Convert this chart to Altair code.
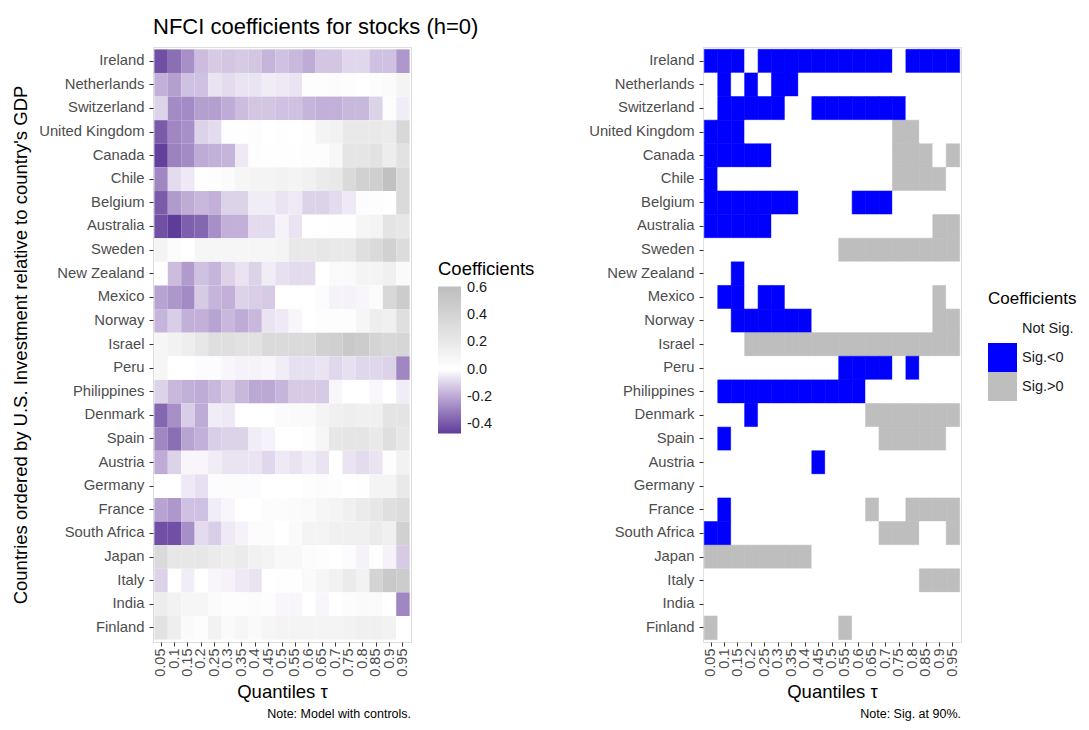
import altair as alt
import pandas as pd

FONT = "Liberation Sans"

countries = ["Ireland", "Netherlands", "Switzerland", "United Kingdom", "Canada", "Chile",
             "Belgium", "Australia", "Sweden", "New Zealand", "Mexico", "Norway", "Israel",
             "Peru", "Philippines", "Denmark", "Spain", "Austria", "Germany", "France",
             "South Africa", "Japan", "Italy", "India", "Finland"]

quantiles = ["0.05", "0.1", "0.15", "0.2", "0.25", "0.3", "0.35", "0.4", "0.45", "0.5",
             "0.55", "0.6", "0.65", "0.7", "0.75", "0.8", "0.85", "0.9", "0.95"]

# NFCI coefficients (h=0), one list per country, quantiles 0.05 ... 0.95
coef_ireland = [-0.42, -0.34, -0.26, -0.15, -0.12, -0.13, -0.12, -0.13, -0.17, -0.14, -0.16, -0.19, -0.13, -0.13, -0.09, -0.09, -0.14, -0.14, -0.24]
coef_netherlands = [-0.18, -0.22, -0.14, -0.14, -0.06, -0.08, -0.06, -0.06, -0.04, -0.05, -0.06, 0.02, 0.02, -0.01, 0.02, 0.0, 0.02, 0.04, 0.1]
coef_switzerland = [-0.1, -0.27, -0.27, -0.22, -0.22, -0.19, -0.15, -0.13, -0.13, -0.14, -0.14, -0.17, -0.18, -0.18, -0.16, -0.16, -0.1, 0.02, -0.04]
coef_uk = [-0.39, -0.28, -0.26, -0.1, -0.08, 0.01, 0.01, 0.02, 0.0, 0.01, 0.0, 0.02, 0.1, 0.12, 0.2, 0.2, 0.2, 0.18, 0.36]
coef_canada = [-0.46, -0.29, -0.27, -0.19, -0.18, -0.17, -0.05, 0.02, 0.01, 0.01, 0.01, 0.02, 0.02, 0.07, 0.24, 0.24, 0.27, 0.17, 0.27]
coef_chile = [-0.28, -0.08, -0.05, 0.0, 0.02, 0.04, 0.08, 0.1, 0.1, 0.12, 0.1, 0.13, 0.18, 0.2, 0.34, 0.43, 0.45, 0.58, 0.34]
coef_belgium = [-0.39, -0.23, -0.19, -0.16, -0.18, -0.1, -0.1, -0.04, -0.04, -0.06, -0.05, -0.1, -0.1, -0.08, -0.05, -0.01, 0.02, 0.01, 0.34]
coef_australia = [-0.42, -0.47, -0.38, -0.36, -0.26, -0.18, -0.18, -0.08, -0.08, -0.03, -0.06, 0.0, 0.0, 0.01, 0.01, 0.08, 0.1, 0.25, 0.22]
coef_sweden = [0.1, 0.03, 0.0, 0.08, 0.08, 0.08, 0.08, 0.08, 0.08, 0.1, 0.2, 0.2, 0.22, 0.2, 0.2, 0.3, 0.34, 0.43, 0.32]
coef_new_zealand = [0.0, -0.15, -0.23, -0.14, -0.17, -0.1, -0.06, -0.1, -0.04, -0.07, -0.08, -0.08, 0.0, 0.05, 0.05, 0.1, 0.1, 0.14, 0.05]
coef_mexico = [-0.21, -0.24, -0.27, -0.12, -0.17, -0.18, -0.1, -0.11, -0.12, 0.0, 0.0, 0.0, -0.01, -0.03, -0.03, -0.02, 0.04, 0.36, 0.48]
coef_norway = [-0.17, -0.11, -0.18, -0.18, -0.21, -0.16, -0.19, -0.16, -0.06, -0.05, -0.02, 0.0, 0.02, 0.02, 0.02, 0.08, 0.16, 0.14, 0.3]
coef_israel = [0.08, 0.12, 0.16, 0.22, 0.3, 0.3, 0.27, 0.27, 0.34, 0.34, 0.34, 0.34, 0.43, 0.45, 0.5, 0.48, 0.4, 0.36, 0.38]
coef_peru = [0.08, 0.0, 0.0, -0.01, -0.01, -0.02, -0.03, -0.03, -0.02, -0.04, -0.07, -0.07, -0.06, -0.09, -0.07, -0.09, -0.09, -0.1, -0.28]
coef_philippines = [-0.1, -0.16, -0.18, -0.19, -0.16, -0.12, -0.16, -0.2, -0.2, -0.17, -0.12, -0.12, -0.12, -0.02, 0.0, 0.0, -0.02, 0.0, -0.04]
coef_denmark = [-0.36, -0.26, -0.11, -0.19, -0.04, -0.05, 0.0, 0.0, 0.0, 0.04, 0.05, 0.05, 0.1, 0.14, 0.16, 0.14, 0.14, 0.25, 0.25]
coef_spain = [-0.28, -0.34, -0.21, -0.18, -0.11, -0.1, -0.1, -0.04, -0.03, 0.0, 0.0, 0.02, 0.08, 0.22, 0.24, 0.24, 0.2, 0.3, 0.22]
coef_austria = [-0.19, -0.1, -0.02, -0.02, -0.04, -0.06, -0.06, -0.06, -0.09, -0.05, -0.06, -0.04, -0.06, 0.0, -0.06, -0.08, -0.06, 0.02, 0.12]
coef_germany = [0.0, 0.0, -0.05, -0.07, -0.01, 0.03, -0.01, -0.01, 0.0, 0.0, 0.0, 0.02, 0.03, 0.02, 0.0, 0.01, 0.1, 0.1, 0.2]
coef_france = [-0.21, -0.24, -0.14, -0.14, -0.04, -0.02, 0.0, 0.0, 0.03, 0.03, 0.04, 0.05, 0.08, 0.1, 0.14, 0.18, 0.22, 0.3, 0.32]
coef_south_africa = [-0.42, -0.42, -0.26, -0.08, -0.11, -0.05, -0.03, 0.03, 0.03, 0.0, 0.05, 0.1, 0.1, 0.14, 0.14, 0.14, 0.18, 0.14, 0.43]
coef_japan = [0.34, 0.22, 0.22, 0.22, 0.18, 0.16, 0.18, 0.13, 0.1, 0.06, 0.06, 0.03, 0.02, 0.0, -0.01, -0.03, 0.01, -0.03, -0.12]
coef_italy = [-0.1, 0.0, -0.04, 0.0, -0.02, -0.03, -0.05, -0.06, 0.0, 0.01, 0.01, 0.05, 0.08, 0.12, 0.18, 0.12, 0.4, 0.5, 0.48]
coef_india = [0.17, 0.12, 0.08, 0.08, 0.04, 0.02, 0.02, 0.03, 0.02, -0.02, -0.02, 0.0, -0.02, 0.0, 0.03, 0.05, 0.05, 0.0, -0.28]
coef_finland = [0.27, 0.16, 0.05, 0.02, 0.12, 0.05, 0.08, 0.05, 0.08, 0.1, 0.1, 0.1, 0.1, 0.1, 0.12, 0.14, 0.14, 0.12, 0.0]

# Significance at 90%: -1 = Sig.<0, 0 = Not Sig., 1 = Sig.>0
sig_ireland = [-1, -1, -1, 0, -1, -1, -1, -1, -1, -1, -1, -1, -1, -1, 0, -1, -1, -1, -1]
sig_netherlands = [0, -1, 0, -1, 0, -1, -1, 0, 0, 0, 0, 0, 0, 0, 0, 0, 0, 0, 0]
sig_switzerland = [0, -1, -1, -1, -1, -1, 0, 0, -1, -1, -1, -1, -1, -1, -1, 0, 0, 0, 0]
sig_uk = [-1, -1, -1, 0, 0, 0, 0, 0, 0, 0, 0, 0, 0, 0, 1, 1, 0, 0, 0]
sig_canada = [-1, -1, -1, -1, -1, 0, 0, 0, 0, 0, 0, 0, 0, 0, 1, 1, 1, 0, 1]
sig_chile = [-1, 0, 0, 0, 0, 0, 0, 0, 0, 0, 0, 0, 0, 0, 1, 1, 1, 1, 0]
sig_belgium = [-1, -1, -1, -1, -1, -1, -1, 0, 0, 0, 0, -1, -1, -1, 0, 0, 0, 0, 0]
sig_australia = [-1, -1, -1, -1, -1, 0, 0, 0, 0, 0, 0, 0, 0, 0, 0, 0, 0, 1, 1]
sig_sweden = [0, 0, 0, 0, 0, 0, 0, 0, 0, 0, 1, 1, 1, 1, 1, 1, 1, 1, 1]
sig_new_zealand = [0, 0, -1, 0, 0, 0, 0, 0, 0, 0, 0, 0, 0, 0, 0, 0, 0, 0, 0]
sig_mexico = [0, -1, -1, 0, -1, -1, 0, 0, 0, 0, 0, 0, 0, 0, 0, 0, 0, 1, 0]
sig_norway = [0, 0, -1, -1, -1, -1, -1, -1, 0, 0, 0, 0, 0, 0, 0, 0, 0, 1, 1]
sig_israel = [0, 0, 0, 1, 1, 1, 1, 1, 1, 1, 1, 1, 1, 1, 1, 1, 1, 1, 1]
sig_peru = [0, 0, 0, 0, 0, 0, 0, 0, 0, 0, -1, -1, -1, -1, 0, -1, 0, 0, 0]
sig_philippines = [0, -1, -1, -1, -1, -1, -1, -1, -1, -1, -1, -1, 0, 0, 0, 0, 0, 0, 0]
sig_denmark = [0, 0, 0, -1, 0, 0, 0, 0, 0, 0, 0, 0, 1, 1, 1, 1, 1, 1, 1]
sig_spain = [0, -1, 0, 0, 0, 0, 0, 0, 0, 0, 0, 0, 0, 1, 1, 1, 1, 1, 0]
sig_austria = [0, 0, 0, 0, 0, 0, 0, 0, -1, 0, 0, 0, 0, 0, 0, 0, 0, 0, 0]
sig_germany = [0, 0, 0, 0, 0, 0, 0, 0, 0, 0, 0, 0, 0, 0, 0, 0, 0, 0, 0]
sig_france = [0, -1, 0, 0, 0, 0, 0, 0, 0, 0, 0, 0, 1, 0, 0, 1, 1, 1, 1]
sig_south_africa = [-1, -1, 0, 0, 0, 0, 0, 0, 0, 0, 0, 0, 0, 1, 1, 1, 0, 0, 1]
sig_japan = [1, 1, 1, 1, 1, 1, 1, 1, 0, 0, 0, 0, 0, 0, 0, 0, 0, 0, 0]
sig_italy = [0, 0, 0, 0, 0, 0, 0, 0, 0, 0, 0, 0, 0, 0, 0, 0, 1, 1, 1]
sig_india = [0, 0, 0, 0, 0, 0, 0, 0, 0, 0, 0, 0, 0, 0, 0, 0, 0, 0, 0]
sig_finland = [1, 0, 0, 0, 0, 0, 0, 0, 0, 0, 1, 0, 0, 0, 0, 0, 0, 0, 0]

sig_labels = {-1: "Sig.<0", 0: "Not Sig.", 1: "Sig.>0"}

coef_lists = [coef_ireland, coef_netherlands, coef_switzerland, coef_uk, coef_canada, coef_chile,
              coef_belgium, coef_australia, coef_sweden, coef_new_zealand, coef_mexico, coef_norway,
              coef_israel, coef_peru, coef_philippines, coef_denmark, coef_spain, coef_austria,
              coef_germany, coef_france, coef_south_africa, coef_japan, coef_italy, coef_india,
              coef_finland]
sig_lists = [sig_ireland, sig_netherlands, sig_switzerland, sig_uk, sig_canada, sig_chile,
             sig_belgium, sig_australia, sig_sweden, sig_new_zealand, sig_mexico, sig_norway,
             sig_israel, sig_peru, sig_philippines, sig_denmark, sig_spain, sig_austria,
             sig_germany, sig_france, sig_south_africa, sig_japan, sig_italy, sig_india,
             sig_finland]

rows = []
for c, cl, sl in zip(countries, coef_lists, sig_lists):
    for q, v, s in zip(quantiles, cl, sl):
        rows.append({"country": c, "q": q, "coef": v,
                     "sig": sig_labels[s], "sig_edge": sig_labels[s]})
df = pd.DataFrame(rows)

W, H = 258, 595
LABEL_COLOR = "#4d4d4d"

band = alt.Scale(paddingInner=0, paddingOuter=0.1)

x_axis = alt.Axis(labelAngle=270, labelFontSize=14.5, labelColor=LABEL_COLOR, labelFont=FONT,
                  tickColor="#333333", tickSize=4, labelPadding=2, domain=False, grid=False,
                  titleFontSize=18.5, titleFontWeight="normal", titleFont=FONT,
                  titleColor="black", titlePadding=6)


def y_axis(with_title):
    kw = dict(labelFontSize=14.8, labelColor=LABEL_COLOR, labelFont=FONT, tickColor="#333333",
              tickSize=4, labelPadding=5, domain=False, grid=False)
    if with_title:
        kw.update(titleFontSize=18.5, titleFontWeight="normal", titleFont=FONT,
                  titleColor="black", titlePadding=8)
    return alt.Axis(**kw)


def sig_scale():
    return alt.Scale(domain=["Not Sig.", "Sig.<0", "Sig.>0"],
                     range=["#ffffff", "#0000ff", "#bebebe"])


heat_left = alt.Chart(df).mark_rect().encode(
    x=alt.X("q:N", sort=quantiles, scale=band, axis=x_axis, title="Quantiles τ"),
    y=alt.Y("country:N", sort=countries, scale=band, axis=y_axis(True),
            title="Countries ordered by U.S. Investment relative to country's GDP"),
    color=alt.Color(
        "coef:Q",
        scale=alt.Scale(domain=[-0.47, 0, 0.61], range=["#5e3c99", "#ffffff", "#bebebe"],
                        interpolate="lab"),
        legend=alt.Legend(
            title="Coefficients", orient="none", legendX=285, legendY=213,
            values=[0.6, 0.4, 0.2, 0.0, -0.2, -0.4],
            labelExpr="datum.value < 0 ? '-' + format(-datum.value, '.1f') : format(datum.value, '.1f')",
            gradientLength=147, gradientThickness=23, gradientStrokeWidth=0,
            titleFontSize=18.5, titleFontWeight="normal", titleFont=FONT, titleColor="black",
            titlePadding=8, labelFontSize=14.5, labelFont=FONT, labelColor="#1a1a1a",
            labelOffset=6,
        ),
    ),
)

note_left = alt.Chart(pd.DataFrame({"t": ["Note: Model with controls."]})).mark_text(
    align="right", baseline="middle", font=FONT, fontSize=12.5, color="black"
).encode(text="t:N", x=alt.value(W), y=alt.value(H + 72))

left = alt.layer(heat_left, note_left).properties(
    width=W, height=H,
    title=alt.Title("NFCI coefficients for stocks (h=0)", anchor="start", frame="group",
                    fontSize=22, fontWeight="normal", font=FONT, color="black", offset=8),
)

heat_right = alt.Chart(df).mark_rect(strokeWidth=0.6).encode(
    x=alt.X("q:N", sort=quantiles, scale=band, axis=x_axis, title="Quantiles τ"),
    y=alt.Y("country:N", sort=countries, scale=band, axis=y_axis(False), title=None),
    color=alt.Color(
        "sig:N",
        scale=sig_scale(),
        legend=alt.Legend(
            title="Coefficients", orient="none", legendX=285, legendY=244,
            symbolType="square", symbolSize=841, symbolStrokeWidth=0, rowPadding=0,
            titleFontSize=17, titleFontWeight="normal", titleFont=FONT, titleColor="black",
            titlePadding=6, labelFontSize=14.5, labelFont=FONT, labelColor="#1a1a1a",
            labelOffset=5,
        ),
    ),
    stroke=alt.Stroke("sig_edge:N", scale=sig_scale(), legend=None),
)

note_right = alt.Chart(pd.DataFrame({"t": ["Note: Sig. at 90%."]})).mark_text(
    align="right", baseline="middle", font=FONT, fontSize=12.5, color="black"
).encode(text="t:N", x=alt.value(W), y=alt.value(H + 72))

right = alt.layer(heat_right, note_right).properties(width=W, height=H)

chart = alt.hconcat(left, right, spacing=52).resolve_scale(
    color="independent", stroke="independent"
).configure_view(
    stroke="#555555", strokeWidth=1
).configure(background="white").properties(
    padding={"left": 3, "top": 7, "right": 0, "bottom": 0}
)

chart.save("out.html", embed_options={"renderer": "svg", "actions": False})
